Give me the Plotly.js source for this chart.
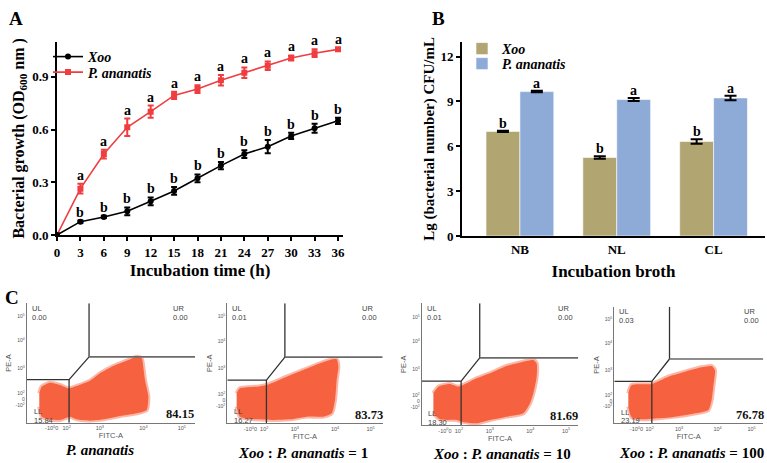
<!DOCTYPE html>
<html>
<head>
<meta charset="utf-8">
<script src="https://cdn.plot.ly/plotly-3.0.1.min.js"></script>
<style>
  html, body { margin: 0; padding: 0; background: #fff; }
  #chart { width: 767px; height: 463px; }
</style>
</head>
<body>
<div id="chart"></div>
<script>
// ---- A: growth curves (OD600) ----
const hours   = [0, 3, 6, 9, 12, 15, 18, 21, 24, 27, 30, 33, 36];
const xooOD   = [0, 0.076, 0.103, 0.135, 0.192, 0.251, 0.323, 0.395, 0.461, 0.503, 0.564, 0.608, 0.650];
const xooErr  = [0, 0.006, 0.006, 0.022, 0.022, 0.022, 0.022, 0.020, 0.022, 0.038, 0.018, 0.026, 0.018];
const xooSig  = ['', 'b', 'b', 'b', 'b', 'b', 'b', 'b', 'b', 'b', 'b', 'b', 'b'];
const panOD   = [0, 0.264, 0.461, 0.613, 0.702, 0.795, 0.831, 0.881, 0.924, 0.964, 1.008, 1.035, 1.057];
const panErr  = [0, 0.028, 0.025, 0.050, 0.035, 0.020, 0.022, 0.030, 0.030, 0.024, 0.014, 0.022, 0.008];
const panSig  = ['', 'a', 'a', 'a', 'a', 'a', 'a', 'a', 'a', 'a', 'a', 'a', 'a'];

// ---- B: cell counts per broth ----
const broths   = ['NB', 'NL', 'CL'];
const xooLg    = [7.00, 5.25, 6.33];
const xooLgErr = [0.05, 0.08, 0.15];
const xooLgSig = ['b', 'b', 'b'];
const panLg    = [9.66, 9.13, 9.24];
const panLgErr = [0.05, 0.10, 0.15];
const panLgSig = ['a', 'a', 'a'];

// ---- C: flow cytometry quadrants ----
const flowCaptions = ['<i>P. ananatis</i>', '<i>Xoo</i> : <i>P. ananatis</i> = 1',
                      '<i>Xoo</i> : <i>P. ananatis</i> = 10', '<i>Xoo</i> : <i>P. ananatis</i> = 100'];
const ulPct = ['0.00', '0.01', '0.01', '0.03'];
const urPct = ['0.00', '0.00', '0.00', '0.00'];
const llPct = ['15.84', '16.27', '18.30', '23.19'];
const lrPct = ['84.15', '83.73', '81.69', '76.78'];

// gate outline (log-decade units of FITC-A / PE-A)
const gateX = [2.68, 2.68, null, 2.68, 2.18, 1.12, null, 2.18, 2.18];
const gateY = [5.51, 3.46, null, 3.46, 2.585, 2.585, null, 2.585, 0.94];
const gateRX = [2.68, 5.33];
const gateRY = [3.46, 3.46];

// event cloud outlines
const cloud1X = [1.435,1.495,1.703,1.953,2.16,2.37,2.703,2.953,3.286,3.621,3.871,3.996,4.036,4.079,4.162,4.121,3.871,3.454,3.036,2.703,2.37,2.203,1.953,1.703,1.495,1.435];
const cloud1Y = [2.065,2.318,2.471,2.383,2.257,2.345,2.547,2.83,3.11,3.313,3.466,3.405,3.083,2.574,1.935,1.426,1.30,1.196,1.07,1.017,1.07,1.17,1.043,1.07,1.17,1.552];
const cloud2X = [1.373,1.463,1.915,2.186,2.728,3.18,3.632,3.903,4.083,4.128,4.083,4.038,3.948,3.722,3.27,2.818,2.367,1.915,1.463,1.373];
const cloud2Y = [2.083,2.273,2.336,2.40,2.717,2.971,3.225,3.352,3.377,3.098,2.59,1.829,1.321,1.194,1.194,1.092,1.067,1.092,1.194,1.575];
const cloud3X = [1.434,1.568,1.882,2.105,2.598,2.956,3.404,3.852,4.121,4.21,4.21,4.121,4.031,3.852,3.404,2.956,2.598,2.195,2.06,1.613,1.434];
const cloud3Y = [2.13,2.38,2.48,2.38,2.693,2.881,3.156,3.319,3.381,3.256,2.756,2.13,1.754,1.378,1.253,1.128,1.003,1.065,1.128,1.153,1.378];
const cloud4X = [1.516,1.61,2.175,2.646,3.117,3.587,3.87,3.964,3.917,3.87,3.776,3.305,2.834,2.363,1.892,1.61,1.516];
const cloud4Y = [2.115,2.442,2.481,2.768,2.964,3.134,3.186,3.029,2.376,1.854,1.462,1.306,1.201,1.136,1.097,1.175,1.593];

const flowXTickVals = [1.745, 2.12, 2.95, 4.04, 5.0];
const flowXTickText = ['-10<sup>0</sup>0', '10<sup>2</sup>', '10<sup>3</sup>', '10<sup>4</sup>', '10<sup>5</sup>'];
const flowYTickVals = [5.0, 4.08, 3.02, 2.05, 1.82, 1.59];
const flowYTickText = ['10<sup>5</sup>', '10<sup>4</sup>', '10<sup>3</sup>', '10<sup>2</sup>', '0', '-10<sup>2</sup>'];

// ---------------------------------------------------------------
const W = 767, H = 463;
const px = v => v / W;          // page pixel -> paper x
const py = v => 1 - v / H;      // page pixel -> paper y
const SERIF = 'Liberation Serif, Times New Roman, serif';
const SANS = 'Liberation Sans, Arial, sans-serif';
const RED = '#ef3d40';
const KHAKI = '#b1a572';
const BLUE = '#8eabd8';
const CLOUD = '#f6623f';

const traces = [];

// panel A
traces.push({
  x: hours, y: panOD, name: 'P. ananatis', type: 'scatter', mode: 'lines+markers',
  line: { color: RED, width: 1.6 }, marker: { color: RED, symbol: 'square', size: 6 },
  error_y: { type: 'data', array: panErr, color: RED, thickness: 2, width: 3 },
  xaxis: 'x', yaxis: 'y', legend: 'legend3', hoverinfo: 'skip'
});
traces.push({
  x: hours, y: xooOD, name: 'Xoo', type: 'scatter', mode: 'lines+markers',
  line: { color: '#000', width: 1.6 }, marker: { color: '#000', symbol: 'circle', size: 6 },
  error_y: { type: 'data', array: xooErr, color: '#000', thickness: 2, width: 3 },
  xaxis: 'x', yaxis: 'y', legend: 'legend', hoverinfo: 'skip'
});

// panel B
traces.push({
  x: broths, y: xooLg, name: 'Xoo', type: 'bar',
  marker: { color: KHAKI, line: { color: '#fff', width: 0.6 } },
  error_y: { type: 'data', array: xooLgErr, color: '#000', thickness: 2, width: 6 },
  xaxis: 'x2', yaxis: 'y2', legend: 'legend2', hoverinfo: 'skip'
});
traces.push({
  x: broths, y: panLg, name: 'P. ananatis', type: 'bar',
  marker: { color: BLUE, line: { color: '#fff', width: 0.6 } },
  error_y: { type: 'data', array: panLgErr, color: '#000', thickness: 2, width: 6 },
  xaxis: 'x2', yaxis: 'y2', legend: 'legend4', hoverinfo: 'skip'
});

// panel C
const clouds = [[cloud1X, cloud1Y], [cloud2X, cloud2Y], [cloud3X, cloud3Y], [cloud4X, cloud4Y]];
clouds.forEach((c, i) => {
  const n = i + 3;
  traces.push({
    x: c[0], y: c[1], type: 'scatter', mode: 'lines', fill: 'toself',
    fillcolor: CLOUD, line: { color: 'rgba(246,98,63,0.45)', width: 4, shape: 'spline', smoothing: 0.6 },
    xaxis: 'x' + n, yaxis: 'y' + n, showlegend: false, hoverinfo: 'skip'
  });
  traces.push({
    x: gateX, y: gateY, type: 'scatter', mode: 'lines',
    line: { color: '#333', width: 1.3 },
    xaxis: 'x' + n, yaxis: 'y' + n, showlegend: false, hoverinfo: 'skip', connectgaps: false
  });
  traces.push({
    x: gateRX, y: gateRY, type: 'scatter', mode: 'lines',
    line: { color: '#6a6a6a', width: 1.6 },
    xaxis: 'x' + n, yaxis: 'y' + n, showlegend: false, hoverinfo: 'skip'
  });
});

const annotations = [];
// significance letters, panel A
hours.forEach((h, i) => {
  if (panSig[i]) annotations.push({ x: h, y: panOD[i] + panErr[i], xref: 'x', yref: 'y',
    text: panSig[i], showarrow: false, yanchor: 'bottom', yshift: -1,
    font: { family: SERIF, size: 14, weight: 'bold', color: '#000' } });
  if (xooSig[i]) annotations.push({ x: h, y: xooOD[i] + xooErr[i], xref: 'x', yref: 'y',
    text: xooSig[i], showarrow: false, yanchor: 'bottom', yshift: -1,
    font: { family: SERIF, size: 14, weight: 'bold', color: '#000' } });
});
// significance letters, panel B
broths.forEach((b, i) => {
  annotations.push({ x: b, y: xooLg[i] + xooLgErr[i], xref: 'x2', yref: 'y2', xshift: -17,
    text: xooLgSig[i], showarrow: false, yanchor: 'bottom', yshift: -2,
    font: { family: SERIF, size: 14, weight: 'bold', color: '#000' } });
  annotations.push({ x: b, y: panLg[i] + panLgErr[i], xref: 'x2', yref: 'y2', xshift: 17,
    text: panLgSig[i], showarrow: false, yanchor: 'bottom', yshift: -2,
    font: { family: SERIF, size: 14, weight: 'bold', color: '#000' } });
});
// panel letters
[['A', 7, 6], ['B', 430, 6], ['C', 3, 285]].forEach(p => annotations.push({
  x: px(p[1]), y: py(p[2]), xref: 'paper', yref: 'paper', xanchor: 'left', yanchor: 'top',
  text: p[0], showarrow: false, font: { family: SERIF, size: 19, weight: 'bold', color: '#000' }
}));
// flow quadrant labels & captions
const captionPos = [[100, 450], [303, 453], [502, 454], [691, 453]];
for (let i = 0; i < 4; i++) {
  const n = i + 3;
  const xr = 'x' + n + ' domain', yr = 'y' + n + ' domain';
  const small = { family: SANS, size: 7.5, color: '#444' };
  const q = (x, y, t, f, xa) => annotations.push({ x, y, xref: xr, yref: yr, text: t,
    showarrow: false, xanchor: xa || 'left', yanchor: 'middle', font: f || small });
  q(0.02, 0.955, 'UL'); q(0.02, 0.885, ulPct[i]);
  q(0.855, 0.955, 'UR'); q(0.855, 0.885, urPct[i]);
  q(0.03, 0.095, 'LL'); q(0.03, 0.02, llPct[i]);
  q(0.91, 0.07, lrPct[i], { family: SERIF, size: 12.5, weight: 'bold', color: '#111' }, 'center');
  annotations.push({ x: px(captionPos[i][0]), y: py(captionPos[i][1]), xref: 'paper', yref: 'paper',
    text: flowCaptions[i], showarrow: false, xanchor: 'center', yanchor: 'middle',
    font: { family: SERIF, size: 15, weight: 'bold', color: '#000' } });
}

const tickFont = { family: SERIF, size: 13, weight: 'bold', color: '#000' };
const titleFont = { family: SERIF, size: 17, weight: 'bold', color: '#000' };
const legFont = { family: SERIF, size: 14, weight: 'bold', style: 'italic', color: '#000' };
const legendAt = (x, y) => ({ x: px(x), y: py(y), xanchor: 'left', yanchor: 'top',
  bgcolor: 'rgba(0,0,0,0)', font: legFont, tracegroupgap: 0, itemwidth: 30 });

const layout = {
  width: W, height: H,
  margin: { l: 0, r: 0, t: 0, b: 0 },
  paper_bgcolor: '#fff', plot_bgcolor: 'rgba(0,0,0,0)',
  barmode: 'group', bargap: 0.3, bargroupgap: 0,
  showlegend: true,
  xaxis: {
    domain: [px(57), px(343)], range: [0, 36.64], anchor: 'y',
    tickvals: hours, ticks: 'outside', ticklen: 4, tickwidth: 2, tickcolor: '#000',
    showline: true, linewidth: 2, linecolor: '#000', showgrid: false, zeroline: false,
    tickfont: tickFont,
    title: { text: 'Incubation time (h)', font: titleFont, standoff: 6 }
  },
  yaxis: {
    domain: [1 - 235 / H, 1 - 41.8 / H], range: [0, 1.1], anchor: 'x',
    tickvals: [0, 0.3, 0.6, 0.9], tickformat: '.1f', ticks: 'outside', ticklen: 4, tickwidth: 2,
    tickcolor: '#000', showline: true, linewidth: 2, linecolor: '#000', showgrid: false, zeroline: false,
    tickfont: tickFont,
    title: { text: 'Bacterial growth (OD<sub>600</sub> nm )', font: { family: SERIF, size: 16, weight: 'bold', color: '#000' }, standoff: 4 }
  },
  xaxis2: {
    domain: [px(462), px(765)], range: [-0.598, 2.531], anchor: 'y2', type: 'category',
    ticks: '', showline: true, linewidth: 2, linecolor: '#000', showgrid: false, zeroline: false,
    tickfont: tickFont,
    title: { text: 'Incubation broth', font: titleFont, standoff: 10 }
  },
  yaxis2: {
    domain: [1 - 236 / H, 1 - 41.7 / H], range: [0, 13], anchor: 'x2',
    tickvals: [0, 3, 6, 9, 12], ticks: 'outside', ticklen: 4, tickwidth: 2, tickcolor: '#000',
    showline: true, linewidth: 2, linecolor: '#000', showgrid: false, zeroline: false,
    tickfont: tickFont,
    title: { text: 'Lg (bacterial number) CFU/mL', font: { family: SERIF, size: 15, weight: 'bold', color: '#000' }, standoff: 2 }
  },
  legend: legendAt(48, 41),
  legend3: legendAt(48, 56.5),
  legend2: legendAt(462, 33),
  legend4: legendAt(462, 48),
  annotations: annotations
};

// flow cytometry axes
const flowDomX = [[26.7, 195], [227.3, 382.7], [421.7, 578.3], [614.3, 763.3]];
const flowDomY = [[303.3, 422.7], [303.3, 423.3], [303.3, 425], [306.7, 423.3]];
for (let i = 0; i < 4; i++) {
  const n = i + 3;
  const tf = { family: SANS, size: 5.5, color: '#555' };
  layout['xaxis' + n] = {
    domain: [px(flowDomX[i][0]), px(flowDomX[i][1])], range: [1.12, 5.33], anchor: 'y' + n,
    tickvals: flowXTickVals, ticktext: flowXTickText, ticks: '', tickangle: 0,
    showline: true, linewidth: 1, linecolor: '#777', showgrid: false, zeroline: false,
    tickfont: tf, title: { text: 'FITC-A', font: { family: SANS, size: 7.5, color: '#555' }, standoff: 0 }
  };
  layout['yaxis' + n] = {
    domain: [py(flowDomY[i][1]), py(flowDomY[i][0])], range: [0.94, 5.51], anchor: 'x' + n,
    tickvals: flowYTickVals, ticktext: flowYTickText, ticks: '', tickangle: 0,
    showline: true, linewidth: 1, linecolor: '#777', showgrid: false, zeroline: false,
    tickfont: { family: SANS, size: 5, color: '#555' },
    title: { text: 'PE-A', font: { family: SANS, size: 7.5, color: '#555' }, standoff: 2 }
  };
}

Plotly.newPlot('chart', traces, layout, { staticPlot: true, displayModeBar: false });
</script>
</body>
</html>
